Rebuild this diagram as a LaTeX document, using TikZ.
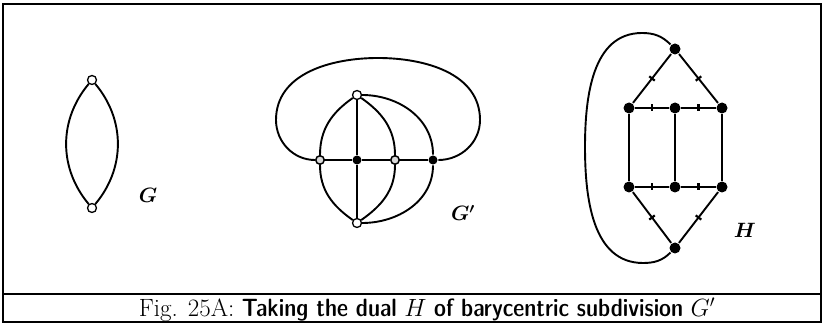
\documentclass[tikz,border=0pt]{standalone}
\usepackage{amsmath}
\usetikzlibrary{positioning, calc}

\begin{document}
\begin{tikzpicture}[
    x=1pt, y=1pt,
    line width=1.9pt,
    wvert/.style={circle, draw, fill=white, line width=1.3pt, inner sep=0pt, minimum size=9pt},
    rvert/.style={circle, draw, fill=gray!30, line width=1.5pt, inner sep=0pt, minimum size=8.5pt},
    bvert/.style={circle, fill=black, inner sep=0pt, minimum size=9pt},
    hvert/.style={circle, fill=black, inner sep=0pt, minimum size=11pt},
    hmark/.style={fill=black, inner sep=0pt, minimum width=2.2pt, minimum height=7pt, sloped},
    glabel/.style={font=\fontsize{22}{26}\selectfont}
]

\useasboundingbox (0,0) rectangle (826,326);

% -------- Frame and caption --------
\draw[line width=1.6pt] (3,4) rectangle (821,322);
\draw[line width=1.6pt] (3,32) -- (821,32);
\node (cap) at (427,16) {\fontsize{25}{28}\selectfont Fig. 25A: {\sffamily\fontseries{sbc}\selectfont Taking the dual} $H$ {\sffamily\fontseries{sbc}\selectfont of barycentric subdivision} $G'$};

% -------- G --------
\node[wvert] (gt) at (92,246) {};
\node[wvert] (gb) at (92,118) {};
\draw (gt) to[bend right=40] (gb);
\draw (gt) to[bend left=40] (gb);
\node[glabel] (gname) at (148,131) {$\boldsymbol{G}$};

% -------- G' --------
\node[wvert] (top) at (357,231) {};
\node[wvert] (bot) at (357,103) {};
\node[rvert] (l) at (320,166) {};
\node[bvert] (m) at (357,166) {};
\node[rvert] (r) at (395,166) {};
\node[bvert] (f) at (433,166) {};

% outer loop
\coordinate (lpw) at (276,206);
\coordinate (lpn) at (378,268);
\coordinate (lpe) at (480,206);

\draw (l) -- (m) -- (r) -- (f);
\draw (top) -- (m) -- (bot);
\draw (top) to[out=-145,in=90] (l) to[out=-90,in=145] (bot);
\draw (top) to[out=-35,in=90] (r) to[out=-90,in=35] (bot);
\draw (top) to[out=0,in=90] (f) to[out=-90,in=0] (bot);
\draw (l) to[out=180,in=-90] (lpw) to[out=90,in=180] (lpn)
      to[out=0,in=90] (lpe) to[out=-90,in=0] (f);
\node[glabel] (gpname) at (463,113) {$\boldsymbol{G'}$};

% -------- H --------
\node[hvert] (ht) at (675,277) {};
\node[hvert] (hb) at (675,78) {};
\foreach \x/\i in {629/1,675/2,722/3} {
    \node[hvert] (a\i) at (\x,218) {};
    \node[hvert] (b\i) at (\x,139) {};
    \draw (a\i) -- (b\i);
}

% marked edges
\foreach \u/\v in {ht/a1,ht/a3,a1/a2,a2/a3,b1/b2,b2/b3,b1/hb,b3/hb} {
    \draw (\u) -- node[hmark] (k\u\v) {} (\v);
}

% outer loop
\coordinate (hpn) at (642,293);
\coordinate (hpw) at (585,179);
\coordinate (hps) at (643,63);
\draw (ht) to[out=135,in=0] (hpn) to[out=180,in=90] (hpw)
      to[out=-90,in=180] (hps) to[out=0,in=-135] (hb);
\node[glabel] (hname) at (745,96) {$\boldsymbol{H}$};

\end{tikzpicture}
\end{document}
